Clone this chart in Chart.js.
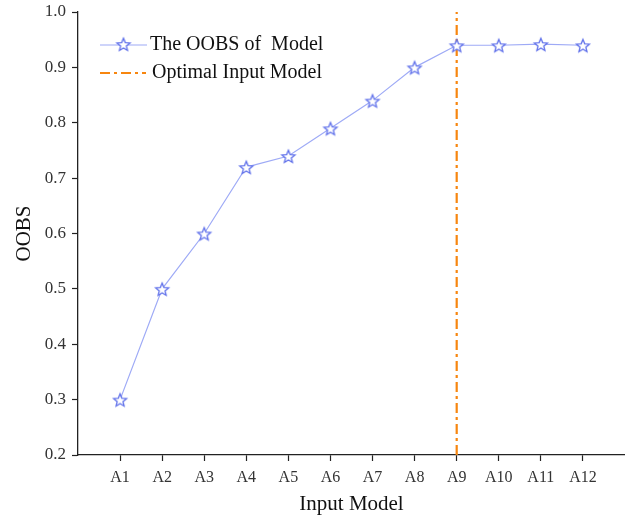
<!DOCTYPE html>
<html><head><meta charset="utf-8">
<script src="https://cdn.jsdelivr.net/npm/chart.js@4/dist/chart.umd.min.js"></script>
<style>html,body{margin:0;padding:0;background:#fff;} #wrap{width:625px;height:521px;position:relative;}</style>
</head><body><div id="wrap"><canvas id="c"></canvas></div>
<script>
const categories = ['A1','A2','A3','A4','A5','A6','A7','A8','A9','A10','A11','A12'];
const oobsValues = [0.30,0.50,0.60,0.72,0.74,0.79,0.84,0.90,0.94,0.94,0.942,0.94];
const optimalCategory = 'A9';
const yRange = [0.2, 1.0];
const seriesLabels = ['The OOBS of  Model','Optimal Input Model'];
const axisTitles = ['Input Model','OOBS'];

const SERIF = '"Liberation Serif", "Times New Roman", serif';
const lineColor = '#9eaaf6';
const starColor = '#5f70ea';
const orange = '#f7860f';

function makeStar(r){
  const s = Math.ceil(r*2+4);
  const cv = document.createElement('canvas'); cv.width=s; cv.height=s;
  const g = cv.getContext('2d');
  g.beginPath();
  for(let i=0;i<10;i++){
    const rad = i%2 ? r*0.45 : r;
    const a = -Math.PI/2 + i*Math.PI/5;
    g.lineTo(s/2+rad*Math.cos(a), s/2+1+rad*Math.sin(a));
  }
  g.closePath();
  g.fillStyle='#ffffff'; g.fill();
  g.lineWidth=1.3; g.strokeStyle=starColor; g.stroke();
  return cv;
}
const starImg = makeStar(6.8);

const optX = categories.indexOf(optimalCategory) + 1;

const legendPlugin = {
  id: 'innerLegend',
  afterDraw(chart){
    const ctx = chart.ctx, ca = chart.chartArea;
    const x0 = ca.left + 22, y0 = ca.top + 33, rowH = 28;
    ctx.save();
    ctx.font = '20px ' + SERIF;
    ctx.fillStyle = '#111';
    ctx.textBaseline = 'middle';
    ctx.strokeStyle = lineColor; ctx.lineWidth = 1.2;
    ctx.beginPath(); ctx.moveTo(x0, y0); ctx.lineTo(x0+47, y0); ctx.stroke();
    ctx.drawImage(starImg, x0+23.5-starImg.width/2, y0-starImg.height/2-1);
    ctx.fillText(chart.data.datasets[0].label, x0+50, y0);
    ctx.strokeStyle = orange; ctx.lineWidth = 2.2;
    ctx.setLineDash([10,4,3,4]);
    ctx.beginPath(); ctx.moveTo(x0, y0+rowH); ctx.lineTo(x0+46, y0+rowH); ctx.stroke();
    ctx.setLineDash([]);
    ctx.fillText(chart.data.datasets[1].label, x0+52, y0+rowH);
    ctx.restore();
  }
};

new Chart(document.getElementById('c'), {
  type: 'line',
  data: {
    datasets: [
      {
        label: seriesLabels[0],
        data: categories.map((c,i)=>({x:i+1, y:oobsValues[i]})),
        borderColor: lineColor, borderWidth: 1.2,
        pointStyle: starImg, pointRadius: 6, tension: 0, clip: false
      },
      {
        label: seriesLabels[1],
        data: [{x:optX, y:yRange[0]}, {x:optX, y:yRange[1]}],
        borderColor: orange, borderWidth: 2.2,
        borderDash: [10,4,3,4], pointRadius: 0
      }
    ]
  },
  plugins: [legendPlugin],
  options: {
    responsive: true, maintainAspectRatio: false, animation: false,
    layout: { autoPadding: false, padding: { top: 12, left: 8, right: 0, bottom: 0 } },
    plugins: { legend: { display: false }, tooltip: { enabled: false } },
    scales: {
      x: {
        type: 'linear', min: 0, max: categories.length + 1,
        afterBuildTicks: (axis) => { axis.ticks = categories.map((c,i)=>({value:i+1})); },
        afterFit: (axis) => { axis.height = 66; axis.paddingLeft = 0; axis.paddingRight = 0; },
        ticks: { autoSkip: false, maxRotation: 0, callback: (v) => categories[v-1] ?? '',
                 font: { family: SERIF, size: 16 }, color: '#333', padding: 7 },
        grid: { drawOnChartArea: false, drawTicks: true, tickLength: 6, color: '#222', tickWidth: 1.2 },
        border: { display: true, color: '#222', width: 1.3 },
        title: { display: true, text: axisTitles[0], font: { family: SERIF, size: 21 }, color: '#111', padding: { top: 11 } }
      },
      y: {
        min: yRange[0], max: yRange[1],
        afterFit: (axis) => { axis.width = 70; axis.paddingTop = 0; axis.paddingBottom = 0; },
        ticks: { stepSize: 0.1, callback: (v) => v.toFixed(1),
                 font: { family: SERIF, size: 17 }, color: '#333', padding: 6 },
        grid: { drawOnChartArea: false, drawTicks: true, tickLength: 6, color: '#222', tickWidth: 1.2 },
        border: { display: true, color: '#222', width: 1.3 },
        title: { display: true, text: axisTitles[1], font: { family: SERIF, size: 21 }, color: '#111', padding: { bottom: 4 } }
      }
    }
  }
});
</script>
</body></html>
